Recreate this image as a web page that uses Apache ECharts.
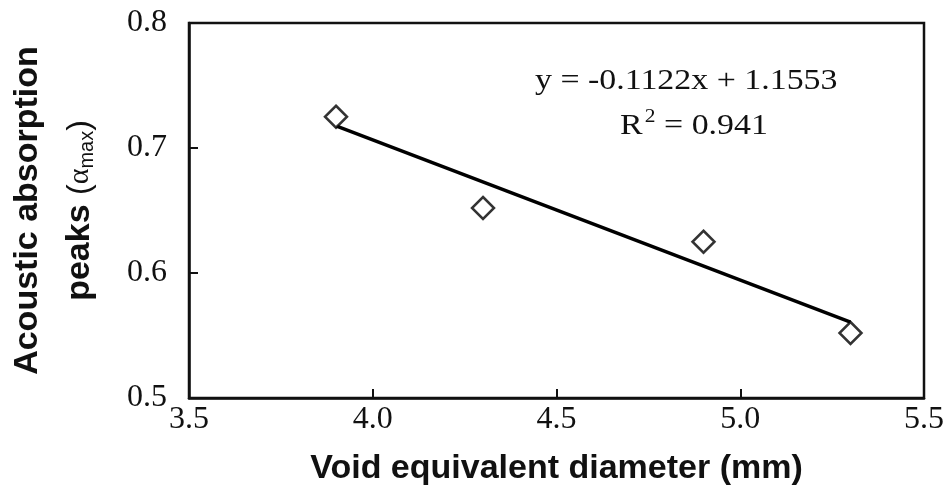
<!DOCTYPE html>
<html>
<head>
<meta charset="utf-8">
<script src="https://cdn.jsdelivr.net/npm/echarts@6/dist/echarts.min.js"></script>
<style>
  html, body { margin: 0; padding: 0; background: #fff; }
  #chart { width: 949px; height: 493px; }
</style>
</head>
<body>
<div id="chart"></div>
<script>
// measured points
const diameter = [3.9, 4.3, 4.9, 5.3]
const peaks = [0.725, 0.652, 0.625, 0.552]
// linear fit shown on the chart
const fitSlope = -0.1122
const fitIntercept = 1.1553
const fitRange = [3.9, 5.3]
const xTicks = [3.5, 4.0, 4.5, 5.0, 5.5]
const yTicks = [0.5, 0.6, 0.7, 0.8]

const serif = '"Liberation Serif", "Times New Roman", serif'
const sans = '"Liberation Sans", Arial, sans-serif'

const myChart = echarts.init(document.getElementById('chart'))
myChart.setOption({
  animation: false,
  grid: {
    left: 189,
    right: 25,
    top: 23,
    bottom: 95,
    outerBoundsMode: 'none',
    containLabel: false,
    show: true,
    borderColor: '#111',
    borderWidth: 2.5
  },
  xAxis: {
    type: 'value',
    min: xTicks[0],
    max: xTicks[xTicks.length - 1],
    interval: 0.5,
    name: 'Void equivalent diameter (mm)',
    nameLocation: 'middle',
    nameGap: 54,
    nameTextStyle: { fontFamily: sans, fontWeight: 'bold', fontSize: 34, color: '#111' },
    axisLine: { lineStyle: { color: '#111', width: 2.5 } },
    axisTick: { inside: true, length: 9, lineStyle: { color: '#111', width: 2 } },
    axisLabel: {
      fontFamily: serif, fontSize: 32, color: '#111', margin: 6,
      formatter: v => v.toFixed(1)
    },
    splitLine: { show: false }
  },
  yAxis: {
    type: 'value',
    min: yTicks[0],
    max: yTicks[yTicks.length - 1],
    interval: 0.1,
    name: '{b|Acoustic absorption}\n{b|peaks }{n|(}{g|α}{s|max}{n|)}',
    nameLocation: 'middle',
    nameGap: 83,
    nameTextStyle: {
      lineHeight: 52,
      rich: {
        b: { fontFamily: sans, fontWeight: 'bold', fontSize: 34, color: '#111', lineHeight: 52 },
        n: { fontFamily: sans, fontSize: 32, color: '#111', lineHeight: 52 },
        g: { fontFamily: serif, fontSize: 30, color: '#111', lineHeight: 52 },
        s: { fontFamily: sans, fontSize: 20, color: '#111', lineHeight: 52, padding: [14, 0, 0, 0] }
      }
    },
    axisLine: { lineStyle: { color: '#111', width: 2.5 } },
    axisTick: { inside: true, length: 9, lineStyle: { color: '#111', width: 2 } },
    axisLabel: {
      fontFamily: serif, fontSize: 32, color: '#111', margin: 22,
      formatter: v => v.toFixed(1)
    },
    splitLine: { show: false }
  },
  graphic: [
    {
      type: 'text',
      x: 535,
      y: 66,
      scaleX: 1.13,
      style: {
        text: 'y = -0.1122x + 1.1553',
        font: '30px ' + serif,
        fill: '#111'
      }
    },
    {
      type: 'text',
      x: 620,
      y: 107,
      scaleX: 1.13,
      style: {
        text: '{n|R}{p|2}{n| = 0.941}',
        rich: {
          n: { font: '30px ' + serif, fill: '#111', lineHeight: 38 },
          p: { font: '19px ' + serif, fill: '#111', lineHeight: 38, padding: [0, 0, 17, 2] }
        }
      }
    }
  ],
  series: [
    {
      name: 'fit',
      type: 'line',
      data: fitRange.map(x => [x, fitSlope * x + fitIntercept]),
      showSymbol: false,
      lineStyle: { color: '#000', width: 3.5 },
      z: 2
    },
    {
      name: 'peaks',
      type: 'scatter',
      data: diameter.map((x, i) => [x, peaks[i]]),
      symbol: 'diamond',
      symbolSize: [22, 22],
      itemStyle: { color: '#fff', borderColor: '#000', borderWidth: 2.5 },
      z: 3
    }
  ]
})
window.onresize = function() {
  myChart.resize()
}
</script>
</body>
</html>
